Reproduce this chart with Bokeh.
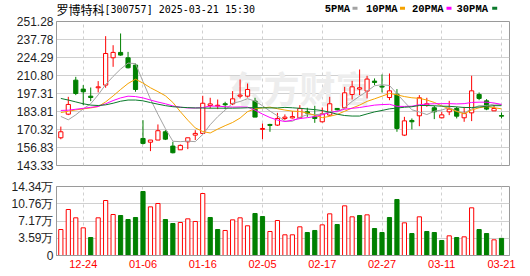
from bokeh.plotting import figure
from bokeh.layouts import column
from bokeh.models import Range1d, FixedTicker, Label, ColumnDataSource
from bokeh.embed import file_html
from bokeh.resources import INLINE
from bokeh.core.properties import value

title_name = "罗博特科"
title_rest = "[300757] 2025-03-21 15:30"
vol_title = "成交量:35574"

dates = ["12-19", "12-20", "12-23", "12-24", "12-25", "12-26", "12-27", "12-30", "12-31", "01-02",
         "01-03", "01-06", "01-07", "01-08", "01-09", "01-10", "01-13", "01-14", "01-15", "01-16",
         "01-17", "01-20", "01-21", "01-22", "01-23", "01-24", "01-27", "02-05", "02-06", "02-07",
         "02-10", "02-11", "02-12", "02-13", "02-14", "02-17", "02-18", "02-19", "02-20", "02-21",
         "02-24", "02-25", "02-26", "02-27", "02-28", "03-03", "03-04", "03-05", "03-06", "03-07",
         "03-10", "03-11", "03-12", "03-13", "03-14", "03-17", "03-18", "03-19", "03-20", "03-21"]

opens = [164.1, 181.8, 207.3, 200.6, 195.3, 201.6, 203.6, 224.1, 228.1, 224.1,
         218.6, 163.6, 160.8, 162.4, 168.6, 157.9, 155.1, 161.1, 166.1, 167.4,
         188.3, 188.0, 189.6, 189.6, 195.3, 195.3, 191.6, 170.4, 174.1, 173.6,
         178.6, 179.0, 179.1, 183.6, 179.8, 176.1, 181.1, 186.1, 186.6, 196.6,
         200.6, 199.1, 206.6, 202.8, 194.3, 196.8, 166.1, 177.1, 180.6, 188.6,
         186.6, 179.1, 183.6, 186.1, 179.1, 182.8, 196.6, 191.8, 184.3, 180.8]
highs = [172.5, 194.8, 209.8, 203.6, 201.8, 206.6, 240.3, 233.5, 242.3, 228.5,
         219.8, 177.3, 162.4, 174.1, 169.8, 161.1, 159.1, 164.1, 169.8, 195.6,
         194.1, 192.8, 191.1, 199.1, 207.8, 204.8, 194.1, 174.8, 174.6, 182.8,
         181.6, 184.1, 188.6, 186.6, 188.1, 186.8, 194.8, 186.1, 202.3, 206.8,
         215.3, 210.6, 208.6, 211.6, 212.3, 200.6, 179.8, 178.6, 196.1, 194.1,
         188.1, 183.6, 191.8, 187.3, 187.3, 210.6, 198.1, 193.1, 188.6, 183.1]
lows = [163.0, 181.1, 196.1, 188.6, 191.6, 198.1, 201.6, 217.3, 225.6, 216.1,
        198.6, 159.1, 154.1, 162.4, 162.4, 152.4, 155.1, 155.6, 162.4, 166.9,
        186.1, 185.6, 185.6, 188.6, 193.6, 194.3, 179.6, 163.1, 168.6, 173.1,
        177.3, 178.6, 178.6, 179.8, 175.3, 175.6, 180.6, 184.6, 186.1, 192.8,
        196.1, 193.6, 203.6, 198.1, 192.3, 168.6, 165.4, 170.4, 172.8, 187.3,
        178.1, 178.6, 181.1, 178.6, 176.1, 176.6, 192.3, 184.8, 184.3, 178.6]
closes = [168.6, 189.1, 197.3, 198.6, 194.3, 202.3, 227.3, 228.1, 226.1, 216.6,
          200.3, 159.9, 162.4, 169.4, 163.1, 152.9, 158.4, 164.1, 167.4, 190.0,
          189.5, 188.5, 188.9, 193.3, 196.1, 200.3, 179.6, 171.1, 173.4, 178.6,
          179.6, 180.0, 186.1, 182.6, 178.6, 182.1, 189.6, 185.1, 197.8, 202.3,
          201.6, 208.1, 205.6, 202.1, 199.3, 171.1, 176.8, 176.1, 194.1, 189.6,
          183.6, 181.3, 185.6, 180.3, 182.3, 199.3, 193.6, 185.6, 186.1, 180.3]
volumes = [5.40, 9.56, 7.83, 5.75, 3.74, 7.83, 11.43, 8.52, 8.31, 7.48,
           7.90, 13.30, 10.11, 10.81, 7.48, 6.65, 6.86, 7.62, 7.07, 12.88,
           7.90, 5.40, 5.20, 7.41, 7.83, 6.17, 8.73, 8.10, 4.99, 7.27,
           4.30, 4.30, 5.96, 4.78, 5.20, 6.37, 8.66, 6.44, 10.32, 8.04,
           8.31, 8.45, 5.61, 4.78, 7.90, 11.64, 6.79, 4.57, 8.04, 4.99,
           4.78, 3.12, 4.09, 3.74, 3.88, 9.91, 5.40, 4.57, 3.26, 3.5574]

ma5 = [180.1, 177.6, 181.3, 185.8, 189.6, 196.3, 204.0, 210.1, 215.6, 220.1,
       219.7, 206.2, 193.1, 181.7, 171.0, 161.5, 161.2, 161.6, 161.2, 166.6,
       173.9, 179.9, 184.9, 190.0, 191.3, 193.4, 191.6, 188.1, 184.1, 180.6,
       176.5, 176.5, 179.5, 181.4, 181.4, 181.9, 183.8, 183.6, 186.6, 191.4,
       195.3, 199.0, 203.1, 203.9, 203.3, 197.2, 191.0, 185.1, 183.5, 181.5,
       184.0, 184.9, 186.8, 184.1, 182.6, 185.8, 188.2, 188.2, 189.4, 189.0]
ma10 = [183.0, 184.0, 185.0, 185.8, 186.5, 187.5, 191.0, 195.5, 200.3, 204.8,
        208.0, 205.1, 201.6, 198.7, 195.6, 190.6, 183.7, 177.3, 171.5, 168.8,
        167.7, 170.6, 173.2, 175.6, 178.9, 183.7, 185.8, 186.5, 187.1, 185.9,
        184.9, 184.1, 183.8, 182.7, 181.0, 179.2, 180.2, 181.6, 184.0, 186.4,
        188.6, 191.4, 193.3, 195.3, 197.4, 196.3, 195.0, 194.1, 193.7, 192.4,
        190.6, 188.0, 186.0, 183.8, 182.1, 184.9, 186.6, 187.5, 186.7, 185.8]
ma20 = [184.6, 184.8, 185.5, 186.2, 186.9, 187.6, 189.6, 192.0, 194.0, 195.3,
        195.0, 194.0, 192.4, 190.9, 189.6, 188.0, 187.0, 186.5, 186.4, 186.8,
        187.9, 187.8, 187.4, 187.1, 187.2, 187.1, 184.8, 181.9, 179.3, 177.4,
        176.3, 177.3, 178.5, 179.2, 180.0, 181.4, 183.0, 184.0, 185.5, 186.2,
        186.8, 187.7, 188.6, 189.0, 189.2, 187.7, 187.6, 187.8, 188.9, 189.4,
        189.6, 189.7, 189.7, 189.5, 189.7, 190.6, 190.8, 190.8, 190.2, 189.1]
ma30 = [193.6, 192.4, 191.0, 189.6, 188.6, 188.3, 188.8, 190.0, 191.5, 192.4,
        192.4, 191.8, 190.5, 189.3, 188.2, 187.4, 187.0, 186.7, 186.5, 186.4,
        186.3, 186.3, 186.3, 186.3, 186.4, 186.6, 186.7, 186.6, 186.5, 186.5,
        186.9, 186.6, 186.2, 185.7, 185.2, 184.5, 183.2, 181.8, 180.8, 180.4,
        180.4, 182.0, 183.5, 184.6, 185.8, 186.4, 187.0, 187.4, 188.3, 188.3,
        188.1, 187.8, 187.7, 187.3, 186.8, 186.8, 187.2, 187.7, 188.2, 188.2]

ma_names = ["5PMA", "10PMA", "20PMA", "30PMA"]
ma_colors = ["#a3a3a3", "#f5a200", "#ff00ff", "#0b7a2c"]

label_dates = ["12-24", "01-06", "01-16", "02-05", "02-17", "02-27", "03-11", "03-21"]
price_ticks = [143.33, 156.83, 170.32, 183.81, 197.31, 210.80, 224.29, 237.78, 251.28]
price_tick_labels = ["143.33", "156.83", "170.32", "183.81", "197.31", "210.80", "224.29", "237.78", "251.28"]
vol_ticks = [0, 3.585, 7.17, 10.755, 14.34]
vol_tick_labels = ["0", "3.59万", "7.17万", "10.76万", "14.34万"]

RED = "#ff0000"
GREEN = "#008000"
GRID = "#d0d0d0"
FRAME = "#9a9a9a"
CJK = "Noto Sans CJK SC"

n = len(dates)
idx = list(range(n))
up = [c >= o for o, c in zip(opens, closes)]
vol_up = [True] + [closes[i] >= closes[i - 1] for i in range(1, n)]
label_pos = [dates.index(d) for d in label_dates]

candles = ColumnDataSource(dict(
    x=idx, high=highs, low=lows,
    top=[max(o, c) for o, c in zip(opens, closes)],
    bottom=[min(o, c) for o, c in zip(opens, closes)],
    color=[RED if u else GREEN for u in up],
    fill=["#ffffff" if u else GREEN for u in up],
))
vols = ColumnDataSource(dict(
    x=idx, vol=volumes,
    color=[RED if u else GREEN for u in vol_up],
    fill=["#ffffff" if u else GREEN for u in vol_up],
))

x_range = Range1d(-0.58, 60.07)

# ---------- header strip ----------
# the column aligns this strip's frame with the charts' frames (x 56..509),
# so its x range is set so that one unit equals one page pixel
HEAD_H = 16
ph = figure(width=530, height=HEAD_H, x_range=Range1d(56, 509), y_range=Range1d(HEAD_H, 0),
            toolbar_location=None, output_backend="svg",
            x_axis_location=None, y_axis_location=None,
            min_border_left=56, min_border_right=21, min_border_top=0, min_border_bottom=0)
ph.outline_line_color = None
ph.grid.visible = False
ph.text(x=[56], y=[8.5], text=[title_name], text_font=value(CJK), text_font_size=value("12px"),
        text_baseline="middle", text_align="left", text_color="#000000")
ph.text(x=[104], y=[8.5], text=[title_rest], text_font=value("DejaVu Sans Mono"),
        text_font_size=value("10px"), text_baseline="middle", text_align="left", text_color="#000000")
leg_text_right = [349.5, 397, 443, 487.5]
leg_dash_left = [352, 399.5, 446, 491.7]
ph.text(x=leg_text_right, y=[8] * 4, text=ma_names, text_font=value("Liberation Mono"),
        text_font_size=value("10.5px"), text_font_style="bold", text_baseline="middle",
        text_align="right", text_color="#000000")
ph.quad(left=leg_dash_left, right=[v + 5 for v in leg_dash_left], top=[6.3] * 4, bottom=[9.3] * 4,
        fill_color=ma_colors, line_color=None)

# ---------- price ----------
pa = figure(width=530, height=155, x_range=x_range, y_range=Range1d(143.33, 251.28),
            toolbar_location=None, output_backend="svg", x_axis_location=None,
            min_border_left=56, min_border_right=21, min_border_top=5, min_border_bottom=6)
pa.outline_line_color = FRAME
pa.yaxis.ticker = FixedTicker(ticks=price_ticks)
pa.yaxis.major_label_overrides = dict(zip(price_ticks, price_tick_labels))
pa.ygrid.ticker = FixedTicker(ticks=price_ticks)
pa.xgrid.ticker = FixedTicker(ticks=label_pos)
pa.ygrid.grid_line_color = GRID
pa.xgrid.grid_line_color = GRID
pa.xgrid.grid_line_dash = "3 3"

pa.add_layout(Label(x=171, y=79, x_units="screen", y_units="screen", text="东方财富",
                    text_font=CJK, text_font_size="36px", text_font_style="bold",
                    text_color="#ededed", text_baseline="middle", level="underlay"))

pa.segment(x0="x", y0="low", x1="x", y1="high", color="color", line_width=1, source=candles)
pa.vbar(x="x", width=0.56, top="top", bottom="bottom", fill_color="fill", line_color="color",
        line_width=1, source=candles)
for ma, col in zip([ma5, ma10, ma20, ma30], ma_colors):
    pa.line(idx, ma, line_color=col, line_width=1)

# ---------- volume ----------
pb = figure(width=530, height=105, x_range=x_range, y_range=Range1d(0, 14.34),
            toolbar_location=None, output_backend="svg",
            min_border_left=56, min_border_right=21, min_border_top=15, min_border_bottom=21)
pb.outline_line_color = FRAME
pb.yaxis.ticker = FixedTicker(ticks=vol_ticks)
pb.yaxis.major_label_overrides = dict(zip(vol_ticks, vol_tick_labels))
pb.xaxis.ticker = FixedTicker(ticks=label_pos)
pb.xaxis.major_label_overrides = dict(zip(label_pos, label_dates))
pb.ygrid.ticker = FixedTicker(ticks=vol_ticks)
pb.xgrid.ticker = FixedTicker(ticks=label_pos)
pb.ygrid.grid_line_color = GRID
pb.xgrid.grid_line_color = GRID
pb.xgrid.grid_line_dash = "3 3"
pb.xaxis.major_label_text_color = RED
pb.xaxis.major_label_text_font_size = "11px"
pb.xaxis.major_label_standoff = 4
pb.add_layout(Label(x=1, y=77, x_units="screen", y_units="screen", text=vol_title,
                    text_font=CJK, text_font_size="12px", text_color="#000000",
                    text_baseline="middle"))
pb.vbar(x="x", width=0.56, top="vol", bottom=0, fill_color="fill", line_color="color",
        line_width=1, source=vols)

for p in (pa, pb):
    for ax in p.axis:
        ax.axis_line_color = FRAME
        ax.major_tick_line_color = None
        ax.minor_tick_line_color = None
        ax.major_tick_out = 0
        ax.major_tick_in = 0
        ax.major_label_text_font = "Liberation Sans"
    p.yaxis.major_label_text_font_size = "12px"
    p.yaxis.major_label_text_color = "#1e1e1e"
    p.yaxis.major_label_standoff = 3
    p.background_fill_color = "#ffffff"
    p.border_fill_color = "#ffffff"

layout = column(ph, pa, pb, spacing=0)
open("out.html", "w").write(file_html(layout, INLINE))
